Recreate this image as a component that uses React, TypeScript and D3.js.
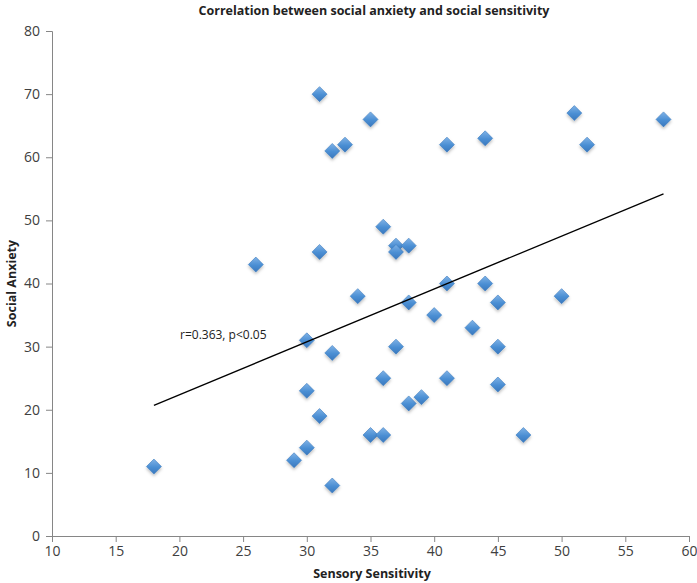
import { useEffect, useRef } from "react";
import { select, scaleLinear, axisBottom, axisLeft, line } from "d3";

const xValues = [18, 26, 29, 30, 30, 30, 31, 31, 31, 32, 32, 32, 33, 34, 35, 35, 36, 36, 36, 37, 37, 37, 38, 38, 38, 39, 40, 41, 41, 41, 43, 44, 44, 45, 45, 45, 47, 50, 51, 52, 58];
const yValues = [11, 43, 12, 31, 23, 14, 70, 45, 19, 61, 29, 8, 62, 38, 66, 16, 49, 25, 16, 46, 45, 30, 46, 37, 21, 22, 35, 62, 40, 25, 33, 63, 40, 37, 30, 24, 16, 38, 67, 62, 66];
const trendX = [18, 58];
const trendY = [20.7, 54.2];
const xTicks = [10, 15, 20, 25, 30, 35, 40, 45, 50, 55, 60];
const yTicks = [0, 10, 20, 30, 40, 50, 60, 70, 80];

const WIDTH = 697;
const HEIGHT = 583;
const PLOT = { left: 52, right: 689, top: 31, bottom: 536 };
const FONT = "'Open Sans', 'Liberation Sans', sans-serif";

export default function App() {
  const svgRef = useRef<SVGSVGElement | null>(null);

  useEffect(() => {
    const svg = svgRef.current;
    if (!svg) return;
    const root = select(svg);
    root.selectAll("*").remove();

    const x = scaleLinear().domain([10, 60]).range([PLOT.left, PLOT.right]);
    const y = scaleLinear().domain([0, 80]).range([PLOT.bottom, PLOT.top]);

    const defs = root.append("defs");
    const grad = defs
      .append("linearGradient")
      .attr("id", "dia")
      .attr("x1", "0")
      .attr("y1", "0")
      .attr("x2", "0")
      .attr("y2", "1");
    grad.append("stop").attr("offset", "0%").attr("stop-color", "#7fb2e6");
    grad.append("stop").attr("offset", "55%").attr("stop-color", "#4a8ed3");
    grad.append("stop").attr("offset", "100%").attr("stop-color", "#3a78bd");
    const shadow = defs.append("filter").attr("id", "shadow").attr("x", "-50%").attr("y", "-50%").attr("width", "200%").attr("height", "200%");
    shadow
      .append("feDropShadow")
      .attr("dx", 0)
      .attr("dy", 2)
      .attr("stdDeviation", 1.5)
      .attr("flood-color", "#000")
      .attr("flood-opacity", 0.25);

    const axisColor = "#868686";
    const textColor = "#404040";

    root
      .append("g")
      .attr("transform", `translate(0,${PLOT.bottom})`)
      .call(axisBottom(x).tickValues(xTicks).tickSize(6).tickPadding(4).tickSizeOuter(6))
      .call((s) => {
        s.selectAll("path,line").attr("stroke", axisColor);
        s.selectAll("text").attr("fill", textColor).attr("font-size", "14px").attr("font-family", FONT);
      });

    root
      .append("g")
      .attr("transform", `translate(${PLOT.left},0)`)
      .call(axisLeft(y).tickValues(yTicks).tickSize(6).tickPadding(6).tickSizeOuter(6))
      .call((s) => {
        s.selectAll("path,line").attr("stroke", axisColor);
        s.selectAll("text").attr("fill", textColor).attr("font-size", "14px").attr("font-family", FONT);
      });

    const points = xValues.map((v, i) => [v, yValues[i]] as [number, number]);
    const r = 7.5;
    root
      .append("g")
      .selectAll("path")
      .data(points)
      .enter()
      .append("path")
      .attr("d", (d) => {
        const cx = x(d[0]);
        const cy = y(d[1]);
        return `M${cx},${cy - r}L${cx + r},${cy}L${cx},${cy + r}L${cx - r},${cy}Z`;
      })
      .attr("fill", "url(#dia)")
      .attr("stroke", "#3d7cc0")
      .attr("stroke-width", 0.6)
      .attr("filter", "url(#shadow)");

    const trend = trendX.map((v, i) => [v, trendY[i]] as [number, number]);
    root
      .append("path")
      .attr(
        "d",
        line<[number, number]>()
          .x((d) => x(d[0]))
          .y((d) => y(d[1]))(trend)
      )
      .attr("fill", "none")
      .attr("stroke", "#000")
      .attr("stroke-width", 1.3);

    root
      .append("text")
      .attr("x", 180)
      .attr("y", 339)
      .attr("fill", "#222")
      .attr("font-size", "12px")
      .attr("font-family", FONT)
      .text("r=0.363, p<0.05");

    root
      .append("text")
      .attr("x", 374)
      .attr("y", 15)
      .attr("text-anchor", "middle")
      .attr("fill", "#222")
      .attr("font-size", "12.5px")
      .attr("font-weight", "bold")
      .attr("font-family", FONT)
      .text("Correlation between social anxiety and social sensitivity");

    root
      .append("text")
      .attr("x", 372)
      .attr("y", 578)
      .attr("text-anchor", "middle")
      .attr("fill", "#222")
      .attr("font-size", "12.5px")
      .attr("font-weight", "bold")
      .attr("font-family", FONT)
      .text("Sensory Sensitivity");

    root
      .append("text")
      .attr("transform", `translate(16,${(PLOT.top + PLOT.bottom) / 2}) rotate(-90)`)
      .attr("text-anchor", "middle")
      .attr("fill", "#222")
      .attr("font-size", "12.5px")
      .attr("font-weight", "bold")
      .attr("font-family", FONT)
      .text("Social Anxiety");
  }, []);

  return (
    <div style={{ position: "absolute", left: 0, top: 0, width: WIDTH, height: HEIGHT, background: "#fff" }}>
      <svg ref={svgRef} width={WIDTH} height={HEIGHT} style={{ display: "block" }} />
    </div>
  );
}
